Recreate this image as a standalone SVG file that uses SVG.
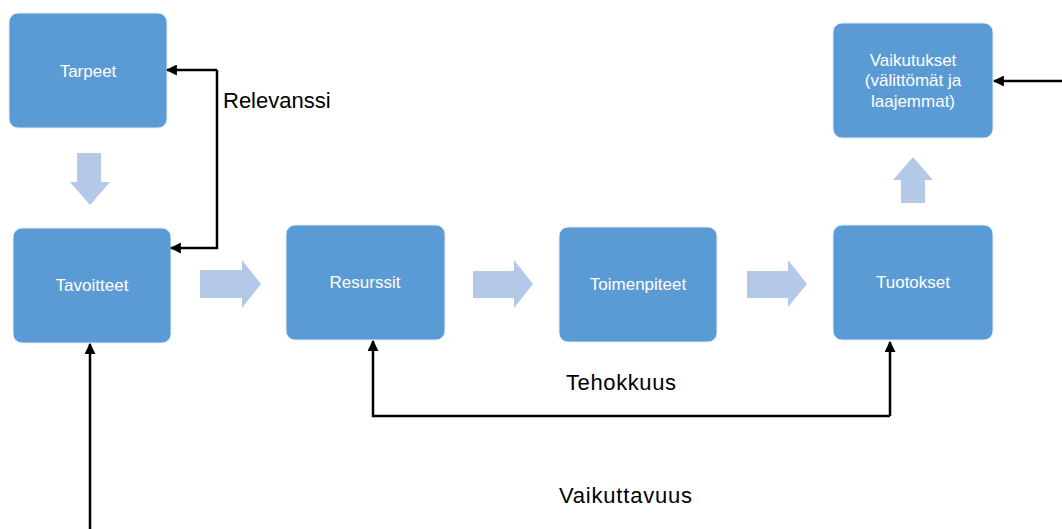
<svg xmlns="http://www.w3.org/2000/svg" width="1062" height="529" viewBox="0 0 1062 529">
<style>
.box{fill:#5b9bd5;stroke:#e4ecf6;stroke-width:1}
.bt{font-family:"Liberation Sans",Arial,sans-serif;font-size:17px;fill:#ffffff;text-anchor:middle}
.lbl{font-family:"Liberation Sans",Arial,sans-serif;font-size:22px;fill:#000000}
.flow{fill:#b4c9e8}
.conn{fill:none;stroke:#000000;stroke-width:2.5;marker-end:url(#ah)}
</style>
<defs>
<marker id="ah" viewBox="0 0 10 10" refX="9" refY="5" markerWidth="4.4" markerHeight="4.4" markerUnits="strokeWidth" orient="auto">
<path d="M0,0 L10,5 L0,10 Z" fill="#000000"/>
</marker>
</defs>
<rect width="1062" height="529" fill="#ffffff"/>
<g id="tarpeet"><rect class="box" x="9" y="13" width="158" height="115" rx="9"/><text class="bt" x="88" y="77">Tarpeet</text></g>
<g id="tavoitteet"><rect class="box" x="13" y="228" width="158" height="115" rx="9"/><text class="bt" x="92" y="291">Tavoitteet</text></g>
<g id="resurssit"><rect class="box" x="286" y="225" width="159" height="115" rx="9"/><text class="bt" x="365" y="288">Resurssit</text></g>
<g id="toimenpiteet"><rect class="box" x="559" y="227" width="158" height="115" rx="9"/><text class="bt" x="638" y="290">Toimenpiteet</text></g>
<g id="tuotokset"><rect class="box" x="833" y="225" width="160" height="115" rx="9"/><text class="bt" x="913" y="288">Tuotokset</text></g>
<g id="vaikutukset"><rect class="box" x="833" y="23" width="160" height="115" rx="9"/>
<text class="bt" x="913" y="66">Vaikutukset</text><text class="bt" x="913" y="86">(välittömät ja</text><text class="bt" x="913" y="107">laajemmat)</text></g>
<g id="flow-arrows">
<polygon class="flow" points="77,153 101,153 101,182 110,182 90,205 70,182 77,182"/>
<polygon class="flow" points="200,270 242,270 242,260 261,284 242,308 242,298 200,298"/>
<polygon class="flow" points="473,271 514,271 514,260 533,284 514,308 514,298 473,298"/>
<polygon class="flow" points="747,271 788,271 788,260 807,284 788,307 788,298 747,298"/>
<polygon class="flow" points="901,203 925,203 925,180 933,180 913,157 893,180 901,180"/>
</g>
<g id="connectors">
<polyline class="conn" points="217,70 217,248 171,248"/>
<line class="conn" x1="217" y1="70" x2="167" y2="70"/>
<polyline class="conn" points="890,416 890,342"/>
<polyline class="conn" points="890,416 373,416 373,341"/>
<line class="conn" x1="90" y1="529" x2="90" y2="344"/>
<line class="conn" x1="1062" y1="81" x2="994" y2="81"/>
</g>
<g id="labels">
<text class="lbl" x="223" y="108">Relevanssi</text>
<text class="lbl" x="566" y="390" textLength="110">Tehokkuus</text>
<text class="lbl" x="559" y="503" textLength="133">Vaikuttavuus</text>
</g>
</svg>
